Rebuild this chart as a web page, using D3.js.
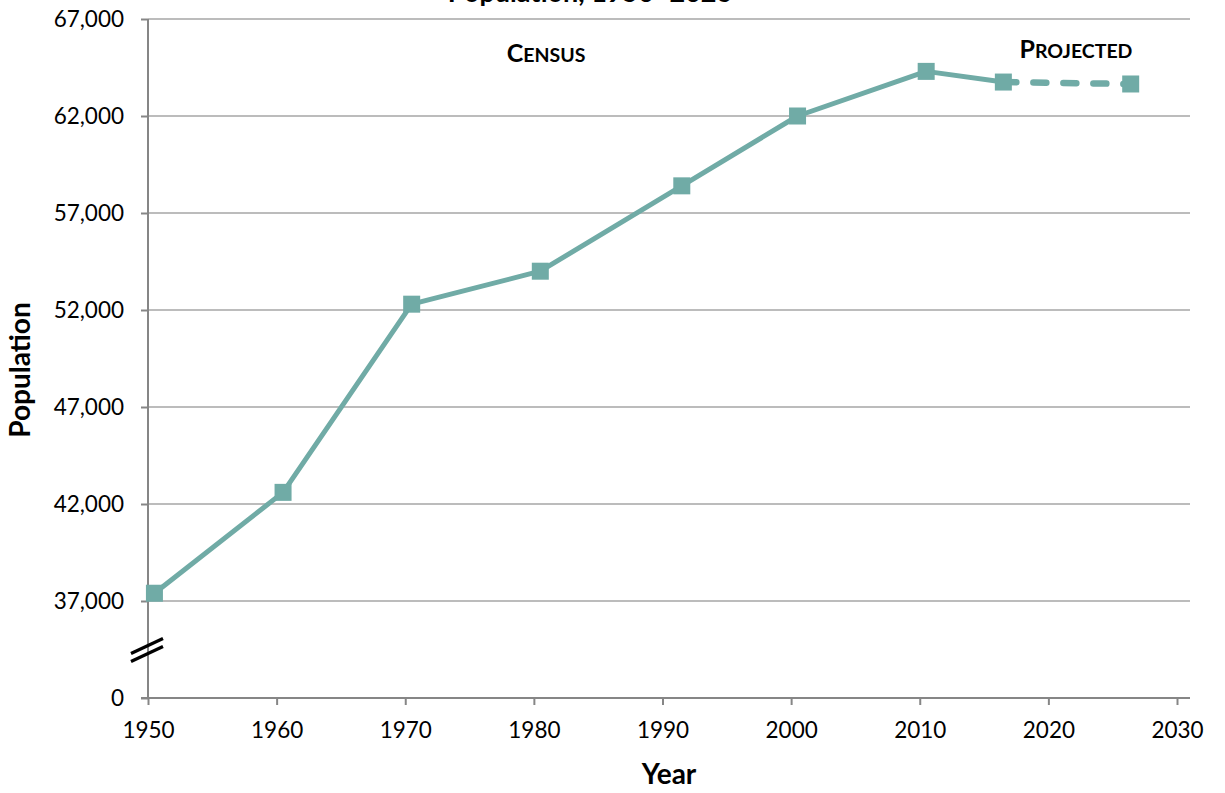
<!DOCTYPE html>
<html>
<head>
<meta charset="utf-8">
<script src="https://cdn.jsdelivr.net/npm/d3@7"></script>
<style>
  html, body { margin: 0; padding: 0; background: #fff; }
  svg { display: block; font-family: Lato, "Open Sans", sans-serif; }
</style>
</head>
<body>
<svg id="chart" width="1225" height="793"></svg>
<script>
// Population counts: census years followed by projections
const censusYears = [1950.5, 1960.5, 1970.5, 1980.5, 1991.5, 2000.5, 2010.5];
const censusValues = [37400, 42600, 52300, 54000, 58400, 62000, 64300];
const projectedYears = [2016.5, 2026.4];
const projectedValues = [63750, 63650];

const yTickValues = [0, 37000, 42000, 47000, 52000, 57000, 62000, 67000];
const xTickValues = [1950, 1960, 1970, 1980, 1990, 2000, 2010, 2020, 2030];

const fontFamily = "Lato, 'Open Sans', sans-serif";
const lineColor = "#70aba6";
const gridColor = "#a6a6a6";
const axisColor = "#868686";

const svg = d3.select("#chart");

// x: years; y: broken axis, 0 sits one step below 37,000
const x = d3.scaleLinear().domain([1950, 2030]).range([148, 1177]);
const y = d3.scaleLinear().domain([0, 37000, 67000]).range([698, 601, 19]);
const plotRight = 1190;

// title (largely above the visible area)
svg.append("text")
  .attr("x", 590).attr("y", 2)
  .attr("text-anchor", "middle")
  .attr("font-weight", "bold")
  .attr("font-size", 27)
  .text("Population, 1950–2026");

// horizontal gridlines
svg.append("g").selectAll("line")
  .data(yTickValues.filter(v => v > 0))
  .join("line")
  .attr("x1", x(1950)).attr("x2", plotRight)
  .attr("y1", d => y(d)).attr("y2", d => y(d))
  .attr("stroke", gridColor).attr("stroke-width", 1.6);

// y axis
const yAxis = svg.append("g")
  .attr("transform", `translate(${x(1950)},0)`)
  .call(d3.axisLeft(y).tickValues(yTickValues).tickSize(7).tickPadding(17)
    .tickFormat(d3.format(",")))
  .attr("font-family", fontFamily);
yAxis.select(".domain").attr("stroke", axisColor).attr("stroke-width", 2)
  .attr("d", `M0,${y(67000)}V${y(0) + 0.5}`);
yAxis.selectAll(".tick line").attr("stroke", axisColor).attr("stroke-width", 2);
yAxis.selectAll(".tick text").attr("font-size", 22.5).attr("fill", "#000");

// x axis
const xAxis = svg.append("g")
  .attr("transform", `translate(0,${y(0)})`)
  .call(d3.axisBottom(x).tickValues(xTickValues).tickSize(7).tickPadding(17)
    .tickFormat(d3.format("d")))
  .attr("font-family", fontFamily);
xAxis.select(".domain").attr("stroke", axisColor).attr("stroke-width", 2)
  .attr("d", `M${x(1950) - 7},0H${plotRight}`);
xAxis.selectAll(".tick line").attr("stroke", axisColor).attr("stroke-width", 2);
xAxis.selectAll(".tick text").attr("font-size", 22.5).attr("fill", "#000");

// axis break marks between 0 and 37,000
const breakY = (y(0) + y(37000)) / 2;
[-4, 4].forEach(off => {
  svg.append("line")
    .attr("x1", x(1950) - 17).attr("y1", breakY + 8 + off)
    .attr("x2", x(1950) + 15).attr("y2", breakY - 7 + off)
    .attr("stroke", "#000").attr("stroke-width", 3.2);
});

// axis titles
svg.append("text")
  .attr("x", 669).attr("y", 784)
  .attr("text-anchor", "middle")
  .attr("font-weight", "bold").attr("font-size", 28)
  .text("Year");
svg.append("text")
  .attr("transform", `translate(30,${370}) rotate(-90)`)
  .attr("text-anchor", "middle")
  .attr("font-weight", "bold").attr("font-size", 28)
  .text("Population");

// section labels in small caps
function smallCaps(xPos, yPos, word) {
  const t = svg.append("text")
    .attr("x", xPos).attr("y", yPos)
    .attr("text-anchor", "middle")
    .attr("font-weight", "bold");
  t.append("tspan").attr("font-size", 25).text(word[0]);
  t.append("tspan").attr("font-size", 19.5).text(word.slice(1).toUpperCase());
}
smallCaps(546, 62, "Census");
smallCaps(1076, 58, "Projected");

// census line (solid)
const censusPts = censusYears.map((yr, i) => [yr, censusValues[i]]);
const projPts = [censusPts[censusPts.length - 1]]
  .concat(projectedYears.map((yr, i) => [yr, projectedValues[i]]));

const line = d3.line().x(d => x(d[0])).y(d => y(d[1]));

svg.append("path")
  .datum(censusPts.concat([projPts[1]]))
  .attr("d", line)
  .attr("fill", "none").attr("stroke", lineColor)
  .attr("stroke-width", 5).attr("stroke-linejoin", "round");

// projection segment (dashed)
svg.append("path")
  .datum(projPts.slice(1))
  .attr("d", line)
  .attr("fill", "none").attr("stroke", lineColor)
  .attr("stroke-width", 6.5).attr("stroke-linecap", "round")
  .attr("stroke-dasharray", "13,17");

// square markers
const markerSize = 17;
svg.append("g").selectAll("rect")
  .data(censusPts.concat(projPts.slice(1)))
  .join("rect")
  .attr("x", d => x(d[0]) - markerSize / 2)
  .attr("y", d => y(d[1]) - markerSize / 2)
  .attr("width", markerSize).attr("height", markerSize)
  .attr("fill", lineColor);
</script>
</body>
</html>
